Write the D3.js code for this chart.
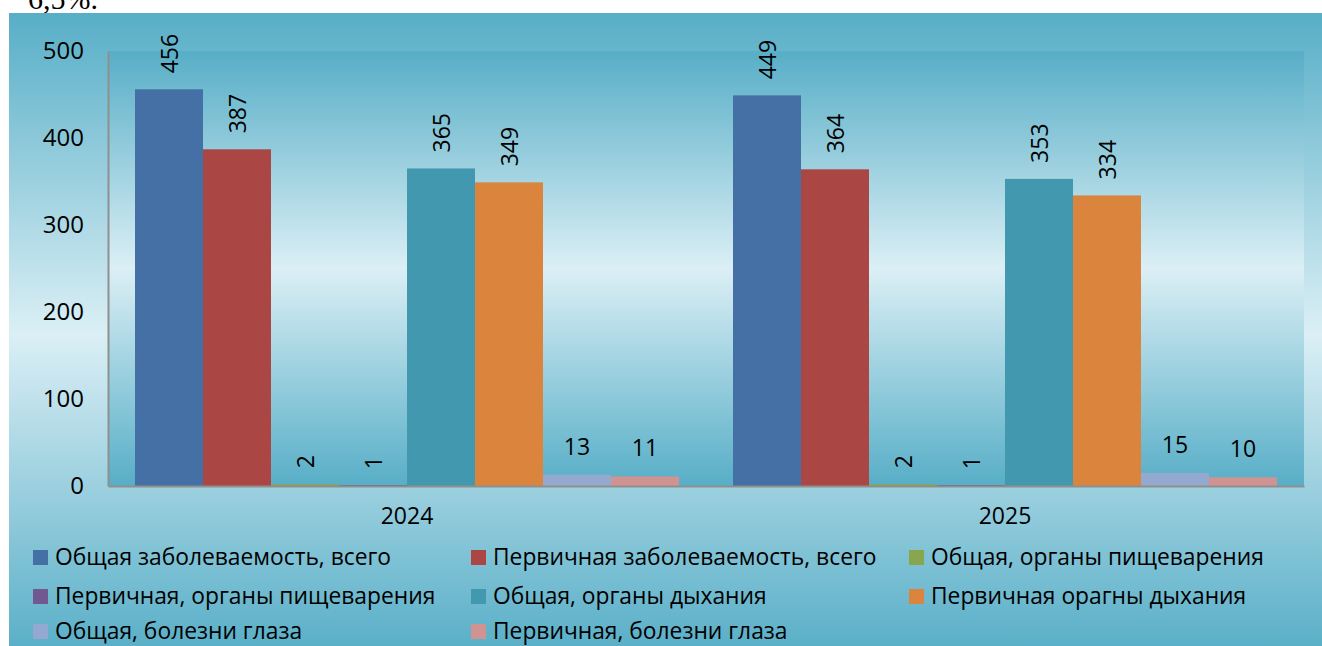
<!DOCTYPE html>
<html>
<head>
<meta charset="utf-8">
<script src="https://cdn.jsdelivr.net/npm/d3@7"></script>
<style>
  body { margin: 0; background: #fff; }
  svg { display: block; }
</style>
</head>
<body>
<div id="chart"></div>
<script>
// data
const years = ["2024", "2025"];
const seriesNames = [
  "Общая заболеваемость, всего",
  "Первичная заболеваемость, всего",
  "Общая, органы пищеварения",
  "Первичная, органы пищеварения",
  "Общая, органы дыхания",
  "Первичная орагны дыхания",
  "Общая, болезни глаза",
  "Первичная, болезни глаза"
];
const values2024 = [456, 387, 2, 1, 365, 349, 13, 11];
const values2025 = [449, 364, 2, 1, 353, 334, 15, 10];
const yTicks = [0, 100, 200, 300, 400, 500];

// colours
const colors = ["#4470a5", "#aa4643", "#89a54e", "#71588f", "#4198af", "#db843d", "#93a9cf", "#d19392"];
// labels of the last two series are horizontal
const rotated = [true, true, true, true, true, true, false, false];

const W = 1322, H = 646;
const svg = d3.select("#chart").append("svg").attr("width", W).attr("height", H);
const font = "'Open Sans', 'DejaVu Sans', sans-serif";

// gradients: dark - light - dark
const defs = svg.append("defs");
function grad(id) {
  const g = defs.append("linearGradient").attr("id", id)
    .attr("x1", 0).attr("y1", 0).attr("x2", 0).attr("y2", 1);
  g.append("stop").attr("offset", "0%").attr("stop-color", "#57aec7");
  g.append("stop").attr("offset", "50%").attr("stop-color", "#dbeff5");
  g.append("stop").attr("offset", "100%").attr("stop-color", "#57aec7");
}
grad("outerGrad");
grad("plotGrad");

// text cut off above the chart
svg.append("text")
  .attr("x", 28).attr("y", 9)
  .style("font-family", "'Liberation Serif', 'Times New Roman', serif")
  .style("font-size", "30px")
  .text("6,5%.");

svg.append("rect")
  .attr("x", 9).attr("y", 13).attr("width", W - 9).attr("height", H - 13 + 8)
  .attr("fill", "url(#outerGrad)");

const m = { left: 108, right: 1304, top: 51, bottom: 486 };

svg.append("rect")
  .attr("x", m.left).attr("y", m.top)
  .attr("width", m.right - m.left).attr("height", m.bottom - m.top)
  .attr("fill", "url(#plotGrad)");

const x0 = d3.scaleBand().domain(years).range([m.left, m.right]).paddingInner(0).paddingOuter(0);
const x1 = d3.scaleBand().domain(d3.range(seriesNames.length))
  .range([0, x0.bandwidth()]).paddingInner(0).paddingOuter(54 / 2 / 68);
const y = d3.scaleLinear().domain([0, 500]).range([m.bottom, m.top]);

const tableRows = years.map((yr, i) => ({ year: yr, vals: i === 0 ? values2024 : values2025 }));

// bars
const groups = svg.selectAll(".grp").data(tableRows).enter().append("g")
  .attr("class", "grp")
  .attr("transform", d => `translate(${x0(d.year)},0)`);

groups.selectAll("rect").data(d => d.vals).enter().append("rect")
  .attr("x", (d, i) => x1(i))
  .attr("width", x1.bandwidth())
  .attr("y", d => y(d))
  .attr("height", d => y(0) - y(d))
  .attr("fill", (d, i) => colors[i]);

// value labels
groups.selectAll("text.val").data(d => d.vals).enter().append("text")
  .attr("class", "val")
  .attr("transform", (d, i) => {
    const cx = x1(i) + x1.bandwidth() / 2;
    if (rotated[i]) return `translate(${cx + 9},${y(d) - 16}) rotate(-90)`;
    return `translate(${cx},${y(d) - 20})`;
  })
  .attr("text-anchor", (d, i) => rotated[i] ? "start" : "middle")
  .style("font-family", font)
  .style("font-size", "23px")
  .style("fill", "#000")
  .text(d => d);

// axes
const yAxis = svg.append("g")
  .attr("transform", `translate(${m.left},0)`)
  .call(d3.axisLeft(y).tickValues(yTicks).tickSize(0).tickPadding(24));
yAxis.select(".domain").attr("stroke", "#8f8f8f").attr("stroke-width", 2);
yAxis.selectAll("text").style("font-family", font).style("font-size", "24px").style("fill", "#000");

const xAxis = svg.append("g")
  .attr("transform", `translate(0,${m.bottom})`)
  .call(d3.axisBottom(x0).tickSize(0).tickPadding(22));
xAxis.select(".domain").attr("stroke", "#8f8f8f").attr("stroke-width", 2);
xAxis.selectAll("text").style("font-family", font).style("font-size", "23px").style("fill", "#000");

// legend
const legX = [33, 471, 909];
const legY = [557, 596, 631];
const leg = svg.selectAll(".leg").data(seriesNames).enter().append("g")
  .attr("class", "leg")
  .attr("transform", (d, i) => `translate(${legX[i % 3]},${legY[Math.floor(i / 3)]})`);
leg.append("rect").attr("x", 0).attr("y", -7).attr("width", 15).attr("height", 15)
  .attr("fill", (d, i) => colors[i]);
leg.append("text").attr("x", 22).attr("y", 0).attr("dy", "0.35em")
  .style("font-family", font).style("font-size", "22.8px").style("fill", "#000")
  .text(d => d);
</script>
</body>
</html>
